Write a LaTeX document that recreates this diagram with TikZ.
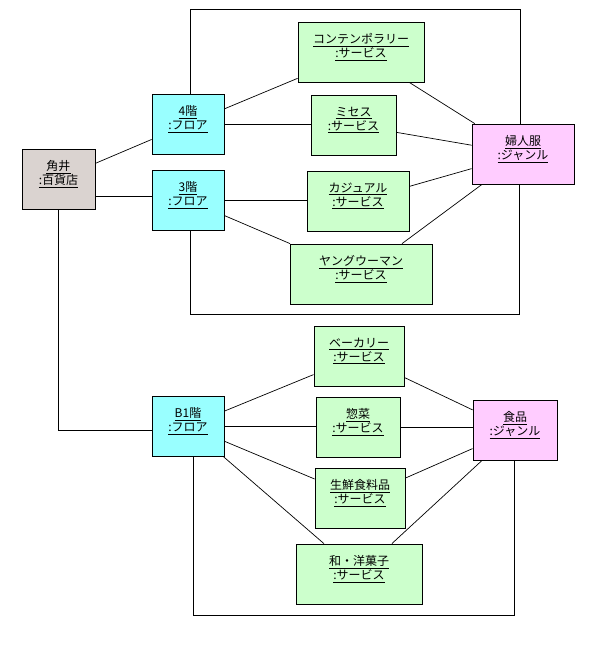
\documentclass[tikz,border=0pt]{standalone}
\usepackage{fontspec}
\setmainfont{Noto Sans CJK JP}
\usepackage{xcolor}
\usepackage{tikz}
\usetikzlibrary{shapes,positioning}
\definecolor{deptfill}{RGB}{218,211,208}
\definecolor{flrfill}{RGB}{153,255,255}
\definecolor{srvfill}{RGB}{204,255,204}
\definecolor{gnrfill}{RGB}{255,204,255}
\newcommand{\objname}[2]{\underline{#1}\\\underline{:#2}\\[-6pt]\strut}
\tikzset{obj/.style={rectangle,draw,line width=0.8pt,minimum height=60pt,inner sep=0pt,align=center,
                     font=\fontsize{12}{14}\selectfont},
         dept/.style={obj,fill=deptfill,minimum width=73pt},
         flr/.style={obj,fill=flrfill,minimum width=72pt},
         srv/.style={obj,fill=srvfill},
         gnr/.style={obj,fill=gnrfill}}

\begin{document}
\begin{tikzpicture}[x=1pt,y=-1pt,line width=0.7pt]
        \useasboundingbox (0,0) rectangle (599,645);
        \node[dept] (kakui) at (58.5,179) {\objname{角井}{百貨店}};
        \node[flr] (f4) at (188,124) {\objname{4階}{フロア}};
        \node[flr] (f3) at (188,200) {\objname{3階}{フロア}};
        \node[flr] (b1) at (188,426) {\objname{B1階}{フロア}};
        \node[srv,minimum width=126pt] (contemp) at (361,52) {\objname{コンテンポラリー}{サービス}};
        \node[srv,minimum width=85pt] (misses) at (353.5,125) {\objname{ミセス}{サービス}};
        \node[srv,minimum width=102pt] (casual) at (358,201) {\objname{カジュアル}{サービス}};
        \node[srv,minimum width=142pt] (young) at (361,274) {\objname{ヤングウーマン}{サービス}};
        \node[gnr,minimum width=102pt] (fujin) at (523,154) {\objname{婦人服}{ジャンル}};
        \node[srv,minimum width=90pt] (bakery) at (359,356) {\objname{ベーカリー}{サービス}};
        \node[srv,minimum width=84pt] (sozai) at (358,427) {\objname{惣菜}{サービス}};
        \node[srv,minimum width=90pt] (seisen) at (360,498) {\objname{生鮮食料品}{サービス}};
        \node[srv,minimum width=126pt] (wagashi) at (359,574) {\objname{和・洋菓子}{サービス}};
        \node[gnr,minimum width=84pt] (shokuhin) at (515,430) {\objname{食品}{ジャンル}};
        \coordinate (f3in) at ([yshift=4pt]f3.west);
        \coordinate (b1in) at ([yshift=-4pt]b1.west);
        \coordinate (f4top) at ([xshift=2pt]f4.north);
        \coordinate (f3bot) at ([xshift=2pt]f3.south);
        \coordinate (fujintop) at ([xshift=-3pt]fujin.north);
        \coordinate (fujinbot) at ([xshift=-4pt]fujin.south);
        \coordinate (b1bot) at ([xshift=5pt]b1.south);
        \coordinate (shokuhinbot) at ([xshift=-1pt]shokuhin.south);

        % store to floors
        \draw [] (kakui) to [] (f4);
        \draw [] (kakui.east |- f3in) to [] (f3in);
        \draw [] (kakui.south) |- (b1in);

        % ladies' wear
        \draw [] (f4) to [] (contemp);
        \draw [] (f4.east) to [] (f4.east -| misses.west);
        \draw [] (f3.east) to [] (f3.east -| casual.west);
        \draw [] (f3) to [] (young);
        \draw [] (contemp) to [] (fujin);
        \draw [] (misses) to [] (fujin);
        \draw [] (casual) to [] (fujin);
        \draw [] (young) to [] (fujin);
        \draw [] (f4top) -- (f4top |- 0,9) -| (fujintop);
        \draw [] (f3bot) -- (f3bot |- 0,314) -| (fujinbot);

        % food
        \draw [] (b1) to [] (bakery);
        \draw [] (b1.east) to [] (b1.east -| sozai.west);
        \draw [] (b1) to [] (seisen);
        \draw [] (b1) to [] (wagashi);
        \draw [] (bakery) to [] (shokuhin);
        \draw [] (sozai.east) to [] (sozai.east -| shokuhin.west);
        \draw [] (seisen) to [] (shokuhin);
        \draw [] (wagashi) to [] (shokuhin);
        \draw [] (b1bot) -- (b1bot |- 0,615) -| (shokuhinbot);
    \end{tikzpicture}
\end{document}
